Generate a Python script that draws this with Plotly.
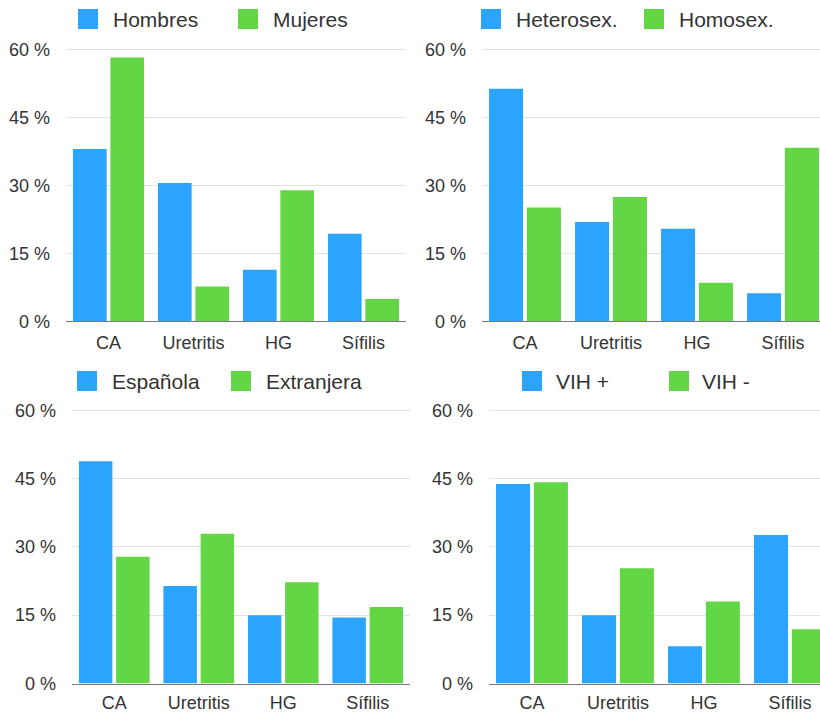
import plotly.graph_objects as go

# Diagnoses shown on every panel
categories = ["CA", "Uretritis", "HG", "Sífilis"]

# Panel 1: by sex
sex_names = ["Hombres", "Mujeres"]
hombres = [38.0, 30.5, 11.4, 19.3]
mujeres = [58.2, 7.7, 28.9, 4.9]

# Panel 2: by sexual orientation
orient_names = ["Heterosex.", "Homosex."]
heterosex = [51.3, 21.9, 20.4, 6.2]
homosex = [25.1, 27.4, 8.5, 38.3]

# Panel 3: by nationality
nat_names = ["Española", "Extranjera"]
espanola = [48.8, 21.4, 15.0, 14.5]
extranjera = [27.8, 32.9, 22.2, 16.8]

# Panel 4: by HIV status
vih_names = ["VIH +", "VIH -"]
vih_pos = [43.8, 15.0, 8.2, 32.6]
vih_neg = [44.2, 25.3, 18.0, 11.9]

y_ticks = [0, 15, 30, 45, 60]
y_tick_text = ["0 %", "15 %", "30 %", "45 %", "60 %"]

W, H = 820, 714
BLUE = "#2aa4fc"
GREEN = "#63d645"
TEXT = "#333333"
FONT = "Liberation Sans, Arial, Helvetica, sans-serif"


def px_x(p):
    return p / W


def px_y(p):
    return 1 - p / H


panels = [
    # (names, series_a, series_b, x0, x1, x_range_end, y_zero_px, px_per_pct,
    #  category label standoff, legend layout)
    (sex_names, hombres, mujeres, 66, 406, 3.5, 321.3, 4.533, 5,
     dict(sq=(78, 238), tx=(112, 272), yc=19)),
    (orient_names, heterosex, homosex, 482, 820, 3.43, 321.3, 4.533, 5,
     dict(sq=(481, 644), tx=(515, 678), yc=19)),
    (nat_names, espanola, extranjera, 72, 410, 3.5, 683.5, 4.555, 3,
     dict(sq=(77, 231), tx=(111, 265), yc=381)),
    (vih_names, vih_pos, vih_neg, 489, 820, 3.35, 683.5, 4.555, 3,
     dict(sq=(522, 669), tx=(555, 701), yc=381)),
]

fig = go.Figure()
shapes = []
annotations = []
Y_TOP = 61.0

for i, (names, sa, sb, x0, x1, xend, yz, ppp, xstand, leg) in enumerate(panels):
    idx = "" if i == 0 else str(i + 1)
    xa, ya = "x" + idx, "y" + idx
    for name, vals, col in ((names[0], sa, BLUE), (names[1], sb, GREEN)):
        fig.add_trace(go.Bar(
            x=categories, y=vals, name=name, marker_color=col,
            marker_line_width=0, xaxis=xa, yaxis=ya, showlegend=False,
            offsetgroup=name,
        ))
    top_px = yz - Y_TOP * ppp
    fig.layout["xaxis" + idx] = dict(
        domain=[px_x(x0), px_x(x1)], anchor=ya, type="category",
        range=[-0.5, xend], showgrid=False, showline=True,
        linecolor="#7a7a7a", linewidth=1.3, ticks="", ticklabelstandoff=xstand,
        tickfont=dict(size=18, color=TEXT, family=FONT), fixedrange=True,
        automargin=False,
    )
    fig.layout["yaxis" + idx] = dict(
        domain=[px_y(yz), px_y(top_px)], anchor=xa, range=[0, Y_TOP],
        tickvals=y_ticks, ticktext=y_tick_text, showgrid=True,
        gridcolor="#e2e2e2", gridwidth=1.2, zeroline=False, ticks="",
        ticklabelstandoff=15, tickfont=dict(size=18, color=TEXT, family=FONT),
        fixedrange=True, automargin=False,
    )
    # Legend swatches and labels
    for k, col in enumerate((BLUE, GREEN)):
        sx = leg["sq"][k]
        shapes.append(dict(
            type="rect", xref="paper", yref="paper",
            x0=px_x(sx), x1=px_x(sx + 20),
            y0=px_y(leg["yc"] + 10), y1=px_y(leg["yc"] - 10),
            fillcolor=col, line_width=0,
        ))
        annotations.append(dict(
            text=names[k], xref="paper", yref="paper",
            x=px_x(leg["tx"][k] - 1), y=px_y(leg["yc"]),
            xanchor="left", yanchor="middle", showarrow=False,
            font=dict(size=21, color=TEXT, family=FONT),
        ))

fig.update_layout(
    width=W, height=H, margin=dict(l=0, r=0, t=0, b=0, autoexpand=False),
    paper_bgcolor="white", plot_bgcolor="white",
    barmode="group", bargap=0.12, bargroupgap=0.1,
    font=dict(family=FONT, color=TEXT),
    shapes=shapes, annotations=annotations,
)

fig.write_html("out.html")
